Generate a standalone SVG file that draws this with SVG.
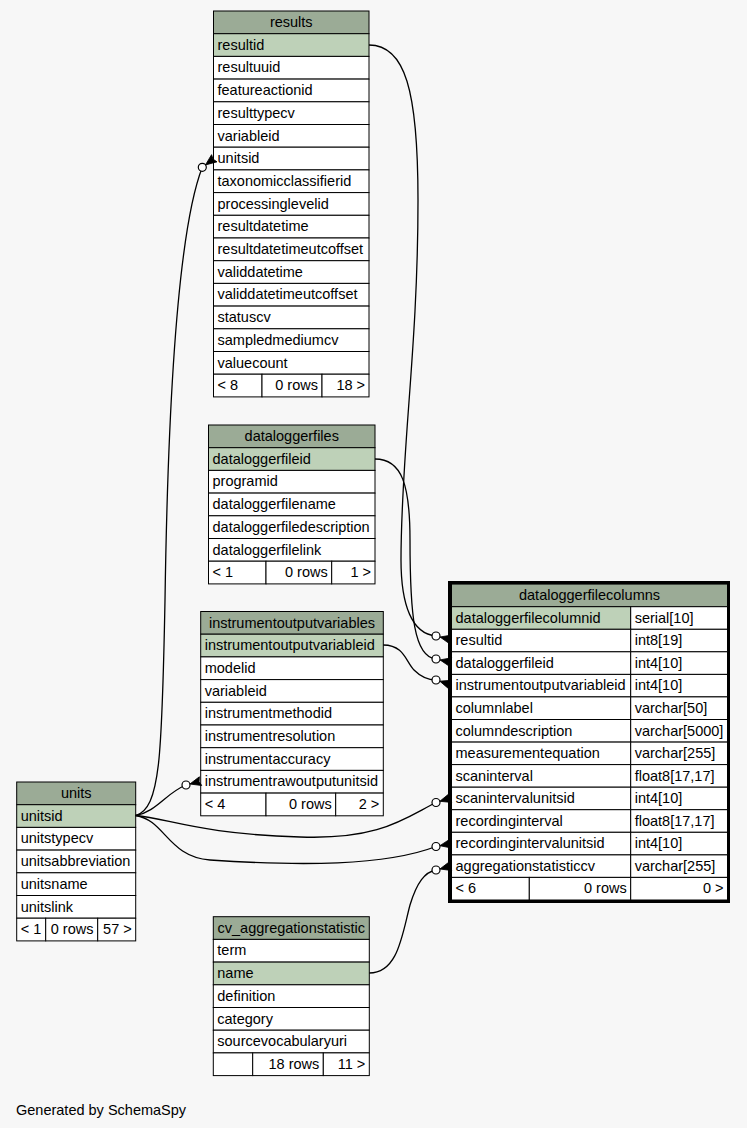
<svg xmlns="http://www.w3.org/2000/svg" xmlns:xlink="http://www.w3.org/1999/xlink" width="747" height="1128" viewBox="0 0 747 1128">
<style>
text{font-family:"Liberation Sans",Arial,sans-serif;font-size:14.5px;fill:#000}
.c{text-anchor:middle}
.r{text-anchor:end}
.hdr{fill:#9bab96;stroke:#000;stroke-width:1}
.pk{fill:#bed1b8;stroke:#000;stroke-width:1}
.row{fill:#fff;stroke:#000;stroke-width:1}
.edge{fill:none;stroke:#000;stroke-width:1.3}
.dot{fill:#fff;stroke:#000;stroke-width:1.2}
.crow{fill:#000;stroke:#000;stroke-width:0.8}
</style>
<defs>
<path id="crow" d="M0,0 L11,-4.5 L9.5,0 L11,4.5 Z"/>
</defs>
<rect x="0" y="0" width="747" height="1128" fill="#f7f7f7"/>

<g id="results">
<rect class="hdr" x="213.5" y="11" width="155.5" height="22.7"/><text class="c" x="291.25" y="27">results</text>
<rect class="pk" x="213.5" y="33.7" width="155.5" height="22.7"/><text x="217.5" y="49.7">resultid</text>
<rect class="row" x="213.5" y="56.4" width="155.5" height="22.7"/><text x="217.5" y="72.4">resultuuid</text>
<rect class="row" x="213.5" y="79.1" width="155.5" height="22.7"/><text x="217.5" y="95.1">featureactionid</text>
<rect class="row" x="213.5" y="101.8" width="155.5" height="22.7"/><text x="217.5" y="117.8">resulttypecv</text>
<rect class="row" x="213.5" y="124.5" width="155.5" height="22.7"/><text x="217.5" y="140.5">variableid</text>
<rect class="row" x="213.5" y="147.2" width="155.5" height="22.7"/><text x="217.5" y="163.2">unitsid</text>
<rect class="row" x="213.5" y="169.9" width="155.5" height="22.7"/><text x="217.5" y="185.9">taxonomicclassifierid</text>
<rect class="row" x="213.5" y="192.6" width="155.5" height="22.7"/><text x="217.5" y="208.6">processinglevelid</text>
<rect class="row" x="213.5" y="215.3" width="155.5" height="22.7"/><text x="217.5" y="231.3">resultdatetime</text>
<rect class="row" x="213.5" y="238.0" width="155.5" height="22.7"/><text x="217.5" y="254.0">resultdatetimeutcoffset</text>
<rect class="row" x="213.5" y="260.7" width="155.5" height="22.7"/><text x="217.5" y="276.7">validdatetime</text>
<rect class="row" x="213.5" y="283.4" width="155.5" height="22.7"/><text x="217.5" y="299.4">validdatetimeutcoffset</text>
<rect class="row" x="213.5" y="306.1" width="155.5" height="22.7"/><text x="217.5" y="322.1">statuscv</text>
<rect class="row" x="213.5" y="328.8" width="155.5" height="22.7"/><text x="217.5" y="344.8">sampledmediumcv</text>
<rect class="row" x="213.5" y="351.5" width="155.5" height="22.7"/><text x="217.5" y="367.5">valuecount</text>
<rect class="row" x="213.5" y="374.2" width="48.5" height="22.7"/><text x="217.5" y="390.2">&lt; 8</text>
<rect class="row" x="262" y="374.2" width="60" height="22.7"/><text class="r" x="318" y="390.2">0 rows</text>
<rect class="row" x="322" y="374.2" width="47" height="22.7"/><text class="r" x="365" y="390.2">18 &gt;</text>
</g>

<g id="dataloggerfiles">
<rect class="hdr" x="208.5" y="425" width="166.5" height="22.7"/><text class="c" x="291.75" y="441">dataloggerfiles</text>
<rect class="pk" x="208.5" y="447.7" width="166.5" height="22.7"/><text x="212.5" y="463.7">dataloggerfileid</text>
<rect class="row" x="208.5" y="470.4" width="166.5" height="22.7"/><text x="212.5" y="486.4">programid</text>
<rect class="row" x="208.5" y="493.1" width="166.5" height="22.7"/><text x="212.5" y="509.1">dataloggerfilename</text>
<rect class="row" x="208.5" y="515.8" width="166.5" height="22.7"/><text x="212.5" y="531.8">dataloggerfiledescription</text>
<rect class="row" x="208.5" y="538.5" width="166.5" height="22.7"/><text x="212.5" y="554.5">dataloggerfilelink</text>
<rect class="row" x="208.5" y="561.2" width="57.5" height="22.7"/><text x="212.5" y="577.2">&lt; 1</text>
<rect class="row" x="266" y="561.2" width="65.7" height="22.7"/><text class="r" x="327.7" y="577.2">0 rows</text>
<rect class="row" x="331.7" y="561.2" width="43.3" height="22.7"/><text class="r" x="371" y="577.2">1 &gt;</text>
</g>

<g id="instrumentoutputvariables">
<rect class="hdr" x="200.7" y="611.5" width="182.6" height="22.7"/><text class="c" x="292" y="627.5">instrumentoutputvariables</text>
<rect class="pk" x="200.7" y="634.2" width="182.6" height="22.7"/><text x="204.7" y="650.2">instrumentoutputvariableid</text>
<rect class="row" x="200.7" y="656.9" width="182.6" height="22.7"/><text x="204.7" y="672.9">modelid</text>
<rect class="row" x="200.7" y="679.6" width="182.6" height="22.7"/><text x="204.7" y="695.6">variableid</text>
<rect class="row" x="200.7" y="702.3" width="182.6" height="22.7"/><text x="204.7" y="718.3">instrumentmethodid</text>
<rect class="row" x="200.7" y="725.0" width="182.6" height="22.7"/><text x="204.7" y="741.0">instrumentresolution</text>
<rect class="row" x="200.7" y="747.7" width="182.6" height="22.7"/><text x="204.7" y="763.7">instrumentaccuracy</text>
<rect class="row" x="200.7" y="770.4" width="182.6" height="22.7"/><text x="204.7" y="786.4">instrumentrawoutputunitsid</text>
<rect class="row" x="200.7" y="793.1" width="65.3" height="22.7"/><text x="204.7" y="809.1">&lt; 4</text>
<rect class="row" x="266" y="793.1" width="69.7" height="22.7"/><text class="r" x="331.7" y="809.1">0 rows</text>
<rect class="row" x="335.7" y="793.1" width="47.6" height="22.7"/><text class="r" x="379.3" y="809.1">2 &gt;</text>
</g>

<g id="units">
<rect class="hdr" x="16.7" y="782" width="119" height="22.7"/><text class="c" x="76.2" y="798">units</text>
<rect class="pk" x="16.7" y="804.7" width="119" height="22.7"/><text x="20.7" y="820.7">unitsid</text>
<rect class="row" x="16.7" y="827.4" width="119" height="22.7"/><text x="20.7" y="843.4">unitstypecv</text>
<rect class="row" x="16.7" y="850.1" width="119" height="22.7"/><text x="20.7" y="866.1">unitsabbreviation</text>
<rect class="row" x="16.7" y="872.8" width="119" height="22.7"/><text x="20.7" y="888.8">unitsname</text>
<rect class="row" x="16.7" y="895.5" width="119" height="22.7"/><text x="20.7" y="911.5">unitslink</text>
<rect class="row" x="16.7" y="918.2" width="29" height="22.7"/><text x="20.7" y="934.2">&lt; 1</text>
<rect class="row" x="45.7" y="918.2" width="52" height="22.7"/><text class="r" x="93.5" y="934.2">0 rows</text>
<rect class="row" x="97.7" y="918.2" width="38" height="22.7"/><text class="r" x="131.7" y="934.2">57 &gt;</text>
</g>

<g id="cv_aggregationstatistic">
<rect class="hdr" x="213.3" y="916.7" width="156" height="22.7"/><text class="c" x="291.3" y="932.7">cv_aggregationstatistic</text>
<rect class="row" x="213.3" y="939.4" width="156" height="22.7"/><text x="217.3" y="955.4">term</text>
<rect class="pk" x="213.3" y="962.1" width="156" height="22.7"/><text x="217.3" y="978.1">name</text>
<rect class="row" x="213.3" y="984.8" width="156" height="22.7"/><text x="217.3" y="1000.8">definition</text>
<rect class="row" x="213.3" y="1007.5" width="156" height="22.7"/><text x="217.3" y="1023.5">category</text>
<rect class="row" x="213.3" y="1030.2" width="156" height="22.7"/><text x="217.3" y="1046.2">sourcevocabularyuri</text>
<rect class="row" x="213.3" y="1052.9" width="39.4" height="22.7"/>
<rect class="row" x="252.7" y="1052.9" width="70.6" height="22.7"/><text class="r" x="319.3" y="1068.9">18 rows</text>
<rect class="row" x="323.3" y="1052.9" width="46" height="22.7"/><text class="r" x="365.3" y="1068.9">11 &gt;</text>
</g>

<g id="dataloggerfilecolumns">
<rect x="449.5" y="582.5" width="279" height="319" fill="#fff" stroke="#000" stroke-width="3"/>
<rect class="hdr" x="451.5" y="584.1" width="276" height="22.6"/><text class="c" x="589.5" y="600.1">dataloggerfilecolumns</text>
<rect class="pk" x="451.5" y="606.7" width="179.2" height="22.6"/><text x="455.5" y="622.7">dataloggerfilecolumnid</text>
<rect class="row" x="630.7" y="606.7" width="96.8" height="22.6"/><text x="634.7" y="622.7">serial[10]</text>
<rect class="row" x="451.5" y="629.3" width="179.2" height="22.5"/><text x="455.5" y="645.3">resultid</text>
<rect class="row" x="630.7" y="629.3" width="96.8" height="22.5"/><text x="634.7" y="645.3">int8[19]</text>
<rect class="row" x="451.5" y="651.8" width="179.2" height="22.6"/><text x="455.5" y="667.8">dataloggerfileid</text>
<rect class="row" x="630.7" y="651.8" width="96.8" height="22.6"/><text x="634.7" y="667.8">int4[10]</text>
<rect class="row" x="451.5" y="674.4" width="179.2" height="22.5"/><text x="455.5" y="690.4">instrumentoutputvariableid</text>
<rect class="row" x="630.7" y="674.4" width="96.8" height="22.5"/><text x="634.7" y="690.4">int4[10]</text>
<rect class="row" x="451.5" y="696.9" width="179.2" height="22.6"/><text x="455.5" y="712.9">columnlabel</text>
<rect class="row" x="630.7" y="696.9" width="96.8" height="22.6"/><text x="634.7" y="712.9">varchar[50]</text>
<rect class="row" x="451.5" y="719.5" width="179.2" height="22.6"/><text x="455.5" y="735.5">columndescription</text>
<rect class="row" x="630.7" y="719.5" width="96.8" height="22.6"/><text x="634.7" y="735.5">varchar[5000]</text>
<rect class="row" x="451.5" y="742.1" width="179.2" height="22.5"/><text x="455.5" y="758.1">measurementequation</text>
<rect class="row" x="630.7" y="742.1" width="96.8" height="22.5"/><text x="634.7" y="758.1">varchar[255]</text>
<rect class="row" x="451.5" y="764.6" width="179.2" height="22.6"/><text x="455.5" y="780.6">scaninterval</text>
<rect class="row" x="630.7" y="764.6" width="96.8" height="22.6"/><text x="634.7" y="780.6">float8[17,17]</text>
<rect class="row" x="451.5" y="787.2" width="179.2" height="22.5"/><text x="455.5" y="803.2">scanintervalunitsid</text>
<rect class="row" x="630.7" y="787.2" width="96.8" height="22.5"/><text x="634.7" y="803.2">int4[10]</text>
<rect class="row" x="451.5" y="809.7" width="179.2" height="22.6"/><text x="455.5" y="825.7">recordinginterval</text>
<rect class="row" x="630.7" y="809.7" width="96.8" height="22.6"/><text x="634.7" y="825.7">float8[17,17]</text>
<rect class="row" x="451.5" y="832.3" width="179.2" height="22.6"/><text x="455.5" y="848.3">recordingintervalunitsid</text>
<rect class="row" x="630.7" y="832.3" width="96.8" height="22.6"/><text x="634.7" y="848.3">int4[10]</text>
<rect class="row" x="451.5" y="854.9" width="179.2" height="22.5"/><text x="455.5" y="870.9">aggregationstatisticcv</text>
<rect class="row" x="630.7" y="854.9" width="96.8" height="22.5"/><text x="634.7" y="870.9">varchar[255]</text>
<rect class="row" x="451.5" y="877.4" width="77.8" height="22.6"/><text x="455.5" y="893.4">&lt; 6</text>
<rect class="row" x="529.3" y="877.4" width="101.4" height="22.6"/><text class="r" x="626.7" y="893.4">0 rows</text>
<rect class="row" x="630.7" y="877.4" width="96.8" height="22.6"/><text class="r" x="723.5" y="893.4">0 &gt;</text>
</g>

<g id="connectors">
<path class="edge" d="M369,45 C405,45 418,90 418,200 C418,350 401,450 401,560 C401,605 412,634 436,636"/>
<path class="edge" d="M375,459 C402,459 410,485 410,540 C410,615 414,657 436,659"/>
<path class="edge" d="M383.3,645 C404,645 406,662 414,670 C421,677 428,680 436,680"/>
<path class="edge" d="M135.7,815.5 C160,808 162,760 165,600 C168,400 178,230 202.3,167.3"/>
<path class="edge" d="M135.7,815.5 C156,812 166,793 186,785"/>
<path class="edge" d="M135.7,815.5 C170,819 200,834 300,837 C380,840 405,818 436,802.5"/>
<path class="edge" d="M135.7,815.5 C165,820 168,857 210,860 C300,866 385,866 436,846.5"/>
<path class="edge" d="M369.3,973 C398,973 402,935 410,905 C417,882 425,872 436,870"/>
<circle class="dot" cx="436" cy="636" r="4"/><use href="#crow" class="crow" transform="translate(440,637) rotate(13)"/>
<circle class="dot" cx="436" cy="659" r="4"/><use href="#crow" class="crow" transform="translate(440,659.9) rotate(12)"/>
<circle class="dot" cx="436" cy="680" r="4"/><use href="#crow" class="crow" transform="translate(439.8,681.2) rotate(18)"/>
<circle class="dot" cx="436" cy="802.5" r="4"/><use href="#crow" class="crow" transform="translate(439.8,801.3) rotate(-17)"/>
<circle class="dot" cx="436" cy="846.5" r="4"/><use href="#crow" class="crow" transform="translate(439.9,845.7) rotate(-11)"/>
<circle class="dot" cx="436" cy="870" r="4"/><use href="#crow" class="crow" transform="translate(439.9,869) rotate(-15)"/>
<circle class="dot" cx="202.3" cy="167.3" r="4"/><use href="#crow" class="crow" transform="translate(205.5,164.9) rotate(-37)"/>
<circle class="dot" cx="186" cy="785" r="4"/><use href="#crow" class="crow" transform="translate(189.9,784) rotate(-15)"/>
</g>

<text x="16" y="1115">Generated by SchemaSpy</text>
</svg>
